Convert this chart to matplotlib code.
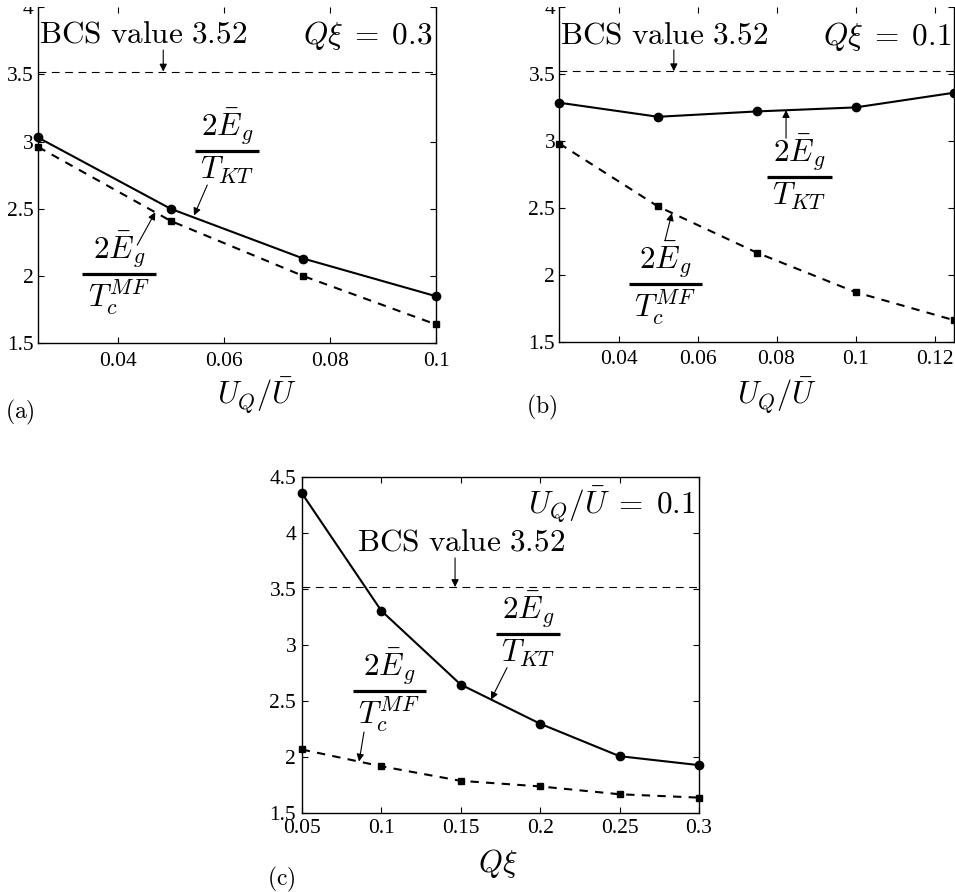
import matplotlib
matplotlib.use("Agg")
import matplotlib.pyplot as plt
from matplotlib.lines import Line2D
from matplotlib.patches import Rectangle

plt.rcParams['mathtext.fontset'] = 'cm'
plt.rcParams['font.family'] = ['Liberation Serif', 'DejaVu Serif']

# (a) Q xi = 0.3, gap ratios vs U_Q/U
ua_x = [0.025, 0.05, 0.075, 0.1]
ua_kt = [3.03, 2.50, 2.13, 1.85]
ua_mf = [2.96, 2.41, 2.00, 1.64]

# (b) Q xi = 0.1
ub_x = [0.025, 0.05, 0.075, 0.1, 0.125]
ub_kt = [3.285, 3.18, 3.22, 3.25, 3.36]
ub_mf = [2.98, 2.51, 2.165, 1.87, 1.66]

# (c) U_Q/U = 0.1, vs Q xi
qc_x = [0.05, 0.1, 0.15, 0.2, 0.25, 0.3]
qc_kt = [4.36, 3.31, 2.65, 2.30, 2.01, 1.93]
qc_mf = [2.07, 1.92, 1.79, 1.74, 1.67, 1.64]

bcs = 3.52

num = r'$2\bar{E}_g$'
den_kt = r'$T_{KT}$'
den_mf = r'$T_c^{MF}$'
lbl_u = r'$U_Q/\bar{U}$'
bcs_txt = r'$\mathrm{BCS\ value\ 3.52}$'

W, H = 955, 892
fig = plt.figure(figsize=(W / 100, H / 100), dpi=100)


def px_axes(l, t, r, b):
    return fig.add_axes([l / W, 1 - b / H, (r - l) / W, (b - t) / H])


def style(ax):
    ax.tick_params(direction='in', top=True, right=True, length=4, width=0.8, labelsize=15.5)
    ax.tick_params(axis='x', pad=6)
    ax.tick_params(axis='y', pad=3)
    for s in ax.spines.values():
        s.set_linewidth(1.0)


def draw(ax, x, kt, mf, xlim, ylim):
    ax.axhline(bcs, color='k', lw=0.8, ls=(0, (7, 5)))
    ax.plot(x, kt, '-', color='k', lw=1.5, marker='o', ms=6, clip_on=False, zorder=3)
    ax.plot(x, mf, '--', color='k', lw=1.5, dashes=(4, 3.5), marker='s', ms=4.5, clip_on=False, zorder=3)
    ax.set_xlim(*xlim)
    ax.set_ylim(*ylim)
    style(ax)


def arrow(ax, start, end):
    ax.annotate('', xy=end, xytext=start,
                arrowprops=dict(arrowstyle='-|>', color='k', lw=0.8, mutation_scale=11, shrinkA=0, shrinkB=0))


def frac(cx, by, w, top, bottom, fs=22.5):
    # stacked fraction with a heavy bar, placed in figure pixels
    fig.text(cx / W, 1 - (by - 4) / H, top, ha='center', va='bottom', fontsize=fs)
    fig.add_artist(Line2D([(cx - w / 2) / W, (cx + w / 2) / W], [1 - by / H] * 2,
                          lw=2.3, color='k', solid_capstyle='butt'))
    fig.text(cx / W, 1 - (by + 4) / H, bottom, ha='center', va='top', fontsize=fs)


# panel (a)
ax1 = px_axes(38, 7, 436, 343.3)
draw(ax1, ua_x, ua_kt, ua_mf, (0.025, 0.1), (1.5, 4))
ax1.set_xticks([0.04, 0.06, 0.08, 0.1])
ax1.set_xticklabels(['0.04', '0.06', '0.08', '0.1'])
ax1.set_yticks([1.5, 2, 2.5, 3, 3.5, 4])
ax1.set_yticklabels(['1.5', '2', '2.5', '3', '3.5', '4'])
ax1.spines['top'].set_visible(False)
ax1.text(0.0251, 3.79, bcs_txt, fontsize=22.5, ha='left', va='center')
ax1.text(0.0993, 3.79, r'$Q\xi\;=\;0.3$', fontsize=22.5, ha='right', va='center')
arrow(ax1, (0.0486, 3.68), (0.0486, 3.52))
arrow(ax1, (0.0569, 2.677), (0.0544, 2.45))
arrow(ax1, (0.0437, 2.23), (0.0471, 2.474))
frac(227, 151, 64, num, den_kt)
frac(119, 274, 74, num, den_mf)

# panel (b)
ax2 = px_axes(559.3, 7, 954.3, 341.7)
draw(ax2, ub_x, ub_kt, ub_mf, (0.025, 0.125), (1.5, 4))
ax2.set_xticks([0.04, 0.06, 0.08, 0.1, 0.12])
ax2.set_xticklabels(['0.04', '0.06', '0.08', '0.1', '0.12'])
ax2.set_yticks([1.5, 2, 2.5, 3, 3.5, 4])
ax2.set_yticklabels(['1.5', '2', '2.5', '3', '3.5', '4'])
ax2.spines['top'].set_visible(False)
ax2.text(0.0251, 3.78, bcs_txt, fontsize=22.5, ha='left', va='center')
ax2.text(0.1243, 3.78, r'$Q\xi\;=\;0.1$', fontsize=22.5, ha='right', va='center')
arrow(ax2, (0.054, 3.68), (0.054, 3.52))
arrow(ax2, (0.0824, 3.02), (0.0824, 3.23))
arrow(ax2, (0.0518, 2.26), (0.0535, 2.46))
frac(799, 177, 65, num, den_kt)
frac(665, 284, 73, num, den_mf)

# panel (c)
ax3 = px_axes(301.7, 477.3, 699, 813.3)
draw(ax3, qc_x, qc_kt, qc_mf, (0.05, 0.3), (1.5, 4.5))
ax3.set_xticks(qc_x)
ax3.set_xticklabels(['0.05', '0.1', '0.15', '0.2', '0.25', '0.3'])
ax3.set_yticks([1.5, 2, 2.5, 3, 3.5, 4, 4.5])
ax3.set_yticklabels(['1.5', '2', '2.5', '3', '3.5', '4', '4.5'])
ax3.tick_params(axis='x', pad=4)
ax3.tick_params(axis='y', pad=4)
ax3.text(0.2975, 4.25, r'$U_Q/\bar{U}\;=\;0.1$', fontsize=22.5, ha='right', va='center')
ax3.text(0.0848, 3.91, bcs_txt, fontsize=22.5, ha='left', va='center')
arrow(ax3, (0.1465, 3.78), (0.1465, 3.52))
arrow(ax3, (0.1792, 2.80), (0.1691, 2.515))
arrow(ax3, (0.0892, 2.226), (0.0861, 1.962))
frac(528, 634, 64, num, den_kt)
frac(389, 691, 73, num, den_mf)

# axis labels and panel tags
fig.text(257 / W, 1 - 395 / H, lbl_u, fontsize=22, ha='center', va='center')
fig.text(777 / W, 1 - 395 / H, lbl_u, fontsize=22, ha='center', va='center')
fig.text(498 / W, 1 - 863 / H, r'$Q\xi$', fontsize=22, ha='center', va='center')
fig.text(20 / W, 1 - 412 / H, r'$\mathrm{(a)}$', fontsize=17, ha='center', va='center')
fig.text(542 / W, 1 - 407 / H, r'$\mathrm{(b)}$', fontsize=17, ha='center', va='center')
fig.text(281 / W, 1 - 879 / H, r'$\mathrm{(c)}$', fontsize=17, ha='center', va='center')

# trim strip along the top edge
fig.patches.append(Rectangle((0, 1 - 7 / H), 1, 7 / H, transform=fig.transFigure,
                             facecolor='white', edgecolor='none', zorder=10))

fig.savefig('out.png', dpi=100)
